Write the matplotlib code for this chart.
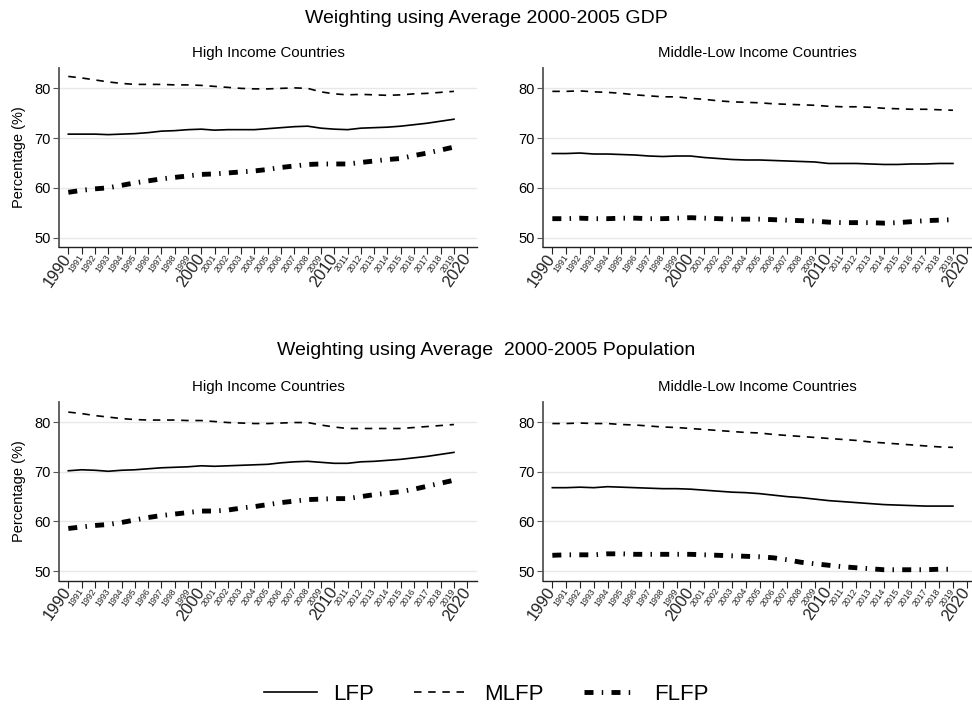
import matplotlib
matplotlib.use("Agg")
import matplotlib.pyplot as plt
from matplotlib.lines import Line2D

plt.rcParams["font.family"] = ["Liberation Sans", "DejaVu Sans"]

years = list(range(1990, 2020))

# GDP-weighted averages, high income
gdp_hi_lfp = [70.8, 70.8, 70.8, 70.7, 70.8, 70.9, 71.1, 71.4, 71.5, 71.7,
              71.8, 71.6, 71.7, 71.7, 71.7, 71.9, 72.1, 72.3, 72.4, 72.0,
              71.8, 71.7, 72.0, 72.1, 72.2, 72.4, 72.7, 73.0, 73.4, 73.8]
gdp_hi_mlfp = [82.4, 82.1, 81.7, 81.3, 81.0, 80.8, 80.8, 80.8, 80.7, 80.7,
               80.6, 80.4, 80.2, 80.0, 79.9, 79.9, 80.0, 80.1, 80.0, 79.3,
               78.9, 78.7, 78.8, 78.7, 78.6, 78.7, 78.9, 79.0, 79.2, 79.4]
gdp_hi_flfp = [59.1, 59.5, 59.8, 60.0, 60.5, 61.0, 61.4, 61.8, 62.1, 62.4,
               62.7, 62.8, 63.0, 63.2, 63.4, 63.7, 64.1, 64.4, 64.7, 64.8,
               64.8, 64.8, 65.1, 65.4, 65.7, 65.9, 66.5, 67.0, 67.6, 68.2]

# GDP-weighted averages, middle-low income
gdp_ml_lfp = [66.9, 66.9, 67.0, 66.8, 66.8, 66.7, 66.6, 66.4, 66.3, 66.4,
              66.4, 66.1, 65.9, 65.7, 65.6, 65.6, 65.5, 65.4, 65.3, 65.2,
              64.9, 64.9, 64.9, 64.8, 64.7, 64.7, 64.8, 64.8, 64.9, 64.9]
gdp_ml_mlfp = [79.4, 79.4, 79.5, 79.3, 79.2, 79.0, 78.7, 78.5, 78.3, 78.3,
               78.0, 77.8, 77.5, 77.3, 77.2, 77.1, 76.9, 76.8, 76.7, 76.6,
               76.4, 76.3, 76.3, 76.2, 76.0, 75.9, 75.8, 75.8, 75.7, 75.6]
gdp_ml_flfp = [53.8, 53.8, 53.9, 53.8, 53.8, 53.9, 53.9, 53.8, 53.8, 53.9,
               54.0, 53.9, 53.8, 53.7, 53.7, 53.7, 53.6, 53.5, 53.4, 53.3,
               53.1, 53.0, 53.0, 53.0, 52.9, 53.0, 53.2, 53.4, 53.5, 53.6]

# population-weighted averages, high income
pop_hi_lfp = [70.2, 70.4, 70.3, 70.1, 70.3, 70.4, 70.6, 70.8, 70.9, 71.0,
              71.2, 71.1, 71.2, 71.3, 71.4, 71.5, 71.8, 72.0, 72.1, 71.9,
              71.7, 71.7, 72.0, 72.1, 72.3, 72.5, 72.8, 73.1, 73.5, 73.9]
pop_hi_mlfp = [82.0, 81.7, 81.3, 81.0, 80.7, 80.5, 80.4, 80.4, 80.4, 80.3,
               80.3, 80.1, 79.9, 79.8, 79.7, 79.7, 79.8, 79.9, 79.9, 79.4,
               79.0, 78.7, 78.7, 78.7, 78.7, 78.7, 78.9, 79.1, 79.3, 79.5]
pop_hi_flfp = [58.6, 58.9, 59.2, 59.4, 59.8, 60.3, 60.8, 61.2, 61.5, 61.8,
               62.1, 62.1, 62.3, 62.7, 63.0, 63.4, 63.8, 64.1, 64.4, 64.5,
               64.6, 64.6, 65.0, 65.4, 65.7, 66.0, 66.5, 67.1, 67.7, 68.3]

# population-weighted averages, middle-low income
pop_ml_lfp = [66.8, 66.8, 66.9, 66.8, 67.0, 66.9, 66.8, 66.7, 66.6, 66.6,
              66.5, 66.3, 66.1, 65.9, 65.8, 65.6, 65.3, 65.0, 64.8, 64.5,
              64.2, 64.0, 63.8, 63.6, 63.4, 63.3, 63.2, 63.1, 63.1, 63.1]
pop_ml_mlfp = [79.7, 79.7, 79.8, 79.7, 79.7, 79.5, 79.4, 79.2, 79.0, 78.9,
               78.7, 78.5, 78.3, 78.1, 77.9, 77.8, 77.5, 77.3, 77.1, 76.9,
               76.7, 76.5, 76.3, 76.0, 75.8, 75.6, 75.4, 75.2, 75.0, 74.9]
pop_ml_flfp = [53.2, 53.3, 53.3, 53.3, 53.5, 53.5, 53.4, 53.4, 53.4, 53.4,
               53.4, 53.3, 53.2, 53.1, 53.0, 52.9, 52.7, 52.3, 51.8, 51.5,
               51.2, 50.9, 50.7, 50.5, 50.3, 50.3, 50.3, 50.3, 50.4, 50.4]

series_labels = ["LFP", "MLFP", "FLFP"]
panel_titles = ["High Income Countries", "Middle-Low Income Countries"]
block_titles = ["Weighting using Average 2000-2005 GDP",
                "Weighting using Average  2000-2005 Population"]
y_ticks = [50, 60, 70, 80]
tick_years = list(range(1990, 2021))
major_years = [1990, 2000, 2010, 2020]

styles = [
    dict(color="black", lw=1.2, ls="-"),
    dict(color="black", lw=1.2, ls=(0, (4.5, 4.0))),
    dict(color="black", lw=3.5, ls=(0, (1.85, 1.7, 0.3, 1.7)), dash_capstyle="butt"),
]

fig = plt.figure(figsize=(9.72, 7.09), dpi=100)

# axes rectangles: [left, bottom, width, height]
rects = [
    [0.0607, 0.6516, 0.4300, 0.2525],
    [0.5583, 0.6516, 0.4417, 0.2525],
    [0.0607, 0.1810, 0.4300, 0.2525],
    [0.5583, 0.1810, 0.4417, 0.2525],
]
xlims = [(1989.30, 2020.73), (1989.30, 2020.38)]

panels = [
    (gdp_hi_lfp, gdp_hi_mlfp, gdp_hi_flfp),
    (gdp_ml_lfp, gdp_ml_mlfp, gdp_ml_flfp),
    (pop_hi_lfp, pop_hi_mlfp, pop_hi_flfp),
    (pop_ml_lfp, pop_ml_mlfp, pop_ml_flfp),
]

for i, (rect, data) in enumerate(zip(rects, panels)):
    ax = fig.add_axes(rect)
    for values, st in zip(data, styles):
        ax.plot(years, values, **st)
    ax.set_xlim(*xlims[i % 2])
    ax.set_ylim(48.1, 84.1)
    ax.set_yticks(y_ticks)
    ax.grid(axis="y", color="#e8e8e8", lw=1.0)
    ax.set_axisbelow(True)
    for side in ["top", "right"]:
        ax.spines[side].set_visible(False)
    ax.spines["left"].set_color("#555555")
    ax.spines["bottom"].set_color("#222222")
    ax.spines["left"].set_linewidth(1.3)
    ax.spines["bottom"].set_linewidth(1.0)
    ax.tick_params(axis="y", labelsize=10.5, length=4, color="#555555", pad=2)
    ax.set_xticks(tick_years)
    labels = ax.set_xticklabels([str(y) for y in tick_years])
    for lab, yr in zip(labels, tick_years):
        lab.set_rotation(55)
        lab.set_ha("right")
        lab.set_va("center")
        lab.set_rotation_mode("anchor")
        lab.set_fontsize(11.8 if yr in major_years else 6.3)
        lab.set_color("#222222")
    ax.tick_params(axis="x", length=5, color="#222222", pad=1)
    ax.set_title(panel_titles[i % 2], fontsize=10.8, pad=8)
    if i % 2 == 0:
        ax.set_ylabel("Percentage (%)", fontsize=10.5, labelpad=6)

fig.text(0.5, 0.9746, block_titles[0], ha="center", va="center", fontsize=14)
fig.text(0.5, 0.5063, block_titles[1], ha="center", va="center", fontsize=14)

handles = [Line2D([], [], **st) for st in styles]
fig.legend(handles, series_labels, loc="center", bbox_to_anchor=(0.5, 0.021),
           ncol=3, frameon=False, fontsize=16, handlelength=2.4,
           columnspacing=1.8, handletextpad=0.75)

fig.savefig("out.png", dpi=100)
